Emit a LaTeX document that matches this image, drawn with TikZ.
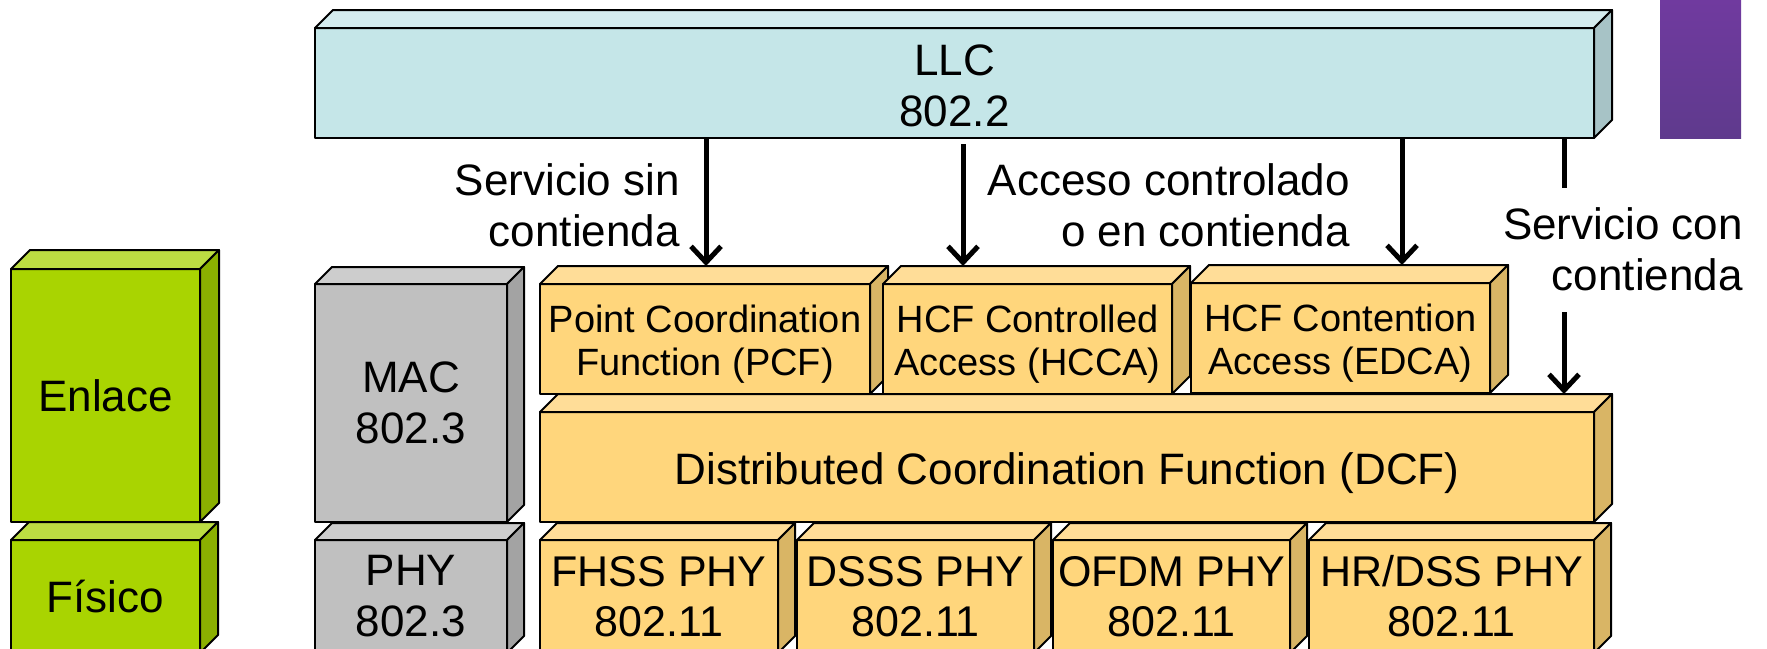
\documentclass[tikz,border=0pt]{standalone}
\usepackage{fontspec}
\setmainfont{Liberation Sans}
\usetikzlibrary{arrows.meta,calc}
\definecolor{llcF}{HTML}{C5E6E8}
\definecolor{llcT}{HTML}{D4ECEE}
\definecolor{llcS}{HTML}{A7C3C6}
\definecolor{grnF}{HTML}{A9D401}
\definecolor{grnT}{HTML}{BCDD42}
\definecolor{grnS}{HTML}{8BB000}
\definecolor{gryF}{HTML}{C0C0C0}
\definecolor{gryT}{HTML}{CDCDCD}
\definecolor{gryS}{HTML}{A3A3A3}
\definecolor{orF}{HTML}{FFD67C}
\definecolor{orT}{HTML}{FFDD98}
\definecolor{orS}{HTML}{D9B565}
\definecolor{purA}{HTML}{703A9F}
\definecolor{purB}{HTML}{5F3A8D}
\newcommand\bigf{\fontsize{44}{51}\selectfont}
\newcommand\midf{\fontsize{38}{43}\selectfont}
\newcommand\phyf{\fontsize{43}{50}\selectfont}
\newcommand\lowstrut[1]{\rule{0pt}{#1}}
\newcommand\cubefaces[4]{%
  \draw[face,fill=#3] (#1.north west) -- ++(#2,-#2) -- ($(#1.north east)+(#2,-#2)$) -- (#1.north east) -- cycle;
  \draw[face,fill=#4] (#1.north east) -- ++(#2,-#2) -- ($(#1.south east)+(#2,-#2)$) -- (#1.south east) -- cycle;
}
\tikzset{
  box/.style={draw, line width=2pt, outer sep=0pt, inner sep=0pt, anchor=north west, align=center, line join=round},
  face/.style={draw, line width=2pt, line join=round},
  lbl/.style={font=\bigf, align=right, inner sep=0pt, anchor=east},
  arr/.style={line width=5pt, -{Straight Barb[length=16pt,width=30pt]}},
  stub/.style={line width=5pt},
}
\begin{document}
\begin{tikzpicture}[x=1pt,y=-1pt]
\useasboundingbox (0,0) rectangle (1767,648);
\clip (0,0) rectangle (1767,648);

% purple tab
\fill[top color=purA, bottom color=purB] (1660,0) rectangle (1741,138);

% LLC
\node[box, fill=llcF, minimum width=1279pt, minimum height=110pt, font=\bigf] (LLC) at (315,28) {\lowstrut{36pt}LLC\\802.2};
\cubefaces{LLC}{18}{llcT}{llcS}

% layer boxes
\node[box, fill=grnF, minimum width=189pt, minimum height=253pt, font=\bigf] (enl) at (11,269) {Enlace};
\cubefaces{enl}{19}{grnT}{grnS}
\node[box, fill=grnF, minimum width=189pt, minimum height=113pt, font=\bigf] (fis) at (11,540) {Físico};
\cubefaces{fis}{18}{grnT}{grnS}

% 802.3
\node[box, fill=gryF, minimum width=192pt, minimum height=238pt, font=\bigf] (mac) at (315,284) {MAC\\802.3};
\cubefaces{mac}{17}{gryT}{gryS}
\node[box, fill=gryF, minimum width=192pt, minimum height=113pt, font=\bigf] (phy) at (315,540) {PHY\\802.3};
\cubefaces{phy}{17}{gryT}{gryS}

% 802.11 MAC
\node[box, fill=orF, minimum width=330pt, minimum height=110pt, font=\midf] (pcf) at (540,284) {\lowstrut{38pt}Point Coordination\\Function (PCF)};
\cubefaces{pcf}{18}{orT}{orS}
\node[box, fill=orF, minimum width=289pt, minimum height=110pt, font=\midf] (hcca) at (883,284) {\lowstrut{38pt}HCF Controlled\\Access (HCCA)};
\cubefaces{hcca}{18}{orT}{orS}
\node[box, fill=orF, minimum width=299pt, minimum height=110pt, font=\midf] (edca) at (1191,283) {\lowstrut{38pt}HCF Contention\\Access (EDCA)};
\cubefaces{edca}{18}{orT}{orS}
\node[box, fill=orF, minimum width=1054pt, minimum height=110pt, font=\bigf] (dcf) at (540,412) {\lowstrut{44pt}Distributed Coordination Function (DCF)};
\cubefaces{dcf}{18}{orT}{orS}

% 802.11 PHY
\node[box, fill=orF, minimum width=238pt, minimum height=113pt, font=\phyf] (fhss) at (540,540) {FHSS PHY\\802.11};
\cubefaces{fhss}{17}{orT}{orS}
\node[box, fill=orF, minimum width=237pt, minimum height=113pt, font=\phyf] (dsss) at (797,540) {DSSS PHY\\802.11};
\cubefaces{dsss}{17}{orT}{orS}
\node[box, fill=orF, minimum width=237pt, minimum height=113pt, font=\phyf] (ofdm) at (1053,540) {OFDM PHY\\802.11};
\cubefaces{ofdm}{17}{orT}{orS}
\node[box, fill=orF, minimum width=285pt, minimum height=113pt, font=\phyf] (hrdss) at (1309,540) {HR/DSS PHY\\802.11};
\cubefaces{hrdss}{17}{orT}{orS}

% connectors
\coordinate (x1) at (706,0);
\coordinate (x2) at (963,0);
\coordinate (x3) at (1402,0);
\coordinate (x4) at (1564,0);
\coordinate (t1) at ($(pcf.north)+(0,-18)$);
\coordinate (t2) at ($(hcca.north)+(0,-18)$);
\coordinate (t3) at ($(edca.north)+(0,-18)$);
\coordinate (t4) at ($(dcf.north)+(0,-18)$);
\coordinate (s4end) at (1564,188);
\coordinate (s4start) at (1564,312);

\draw[arr] (LLC.south -| x1) -- (t1 -| x1);
\draw[arr, shorten <=6pt] (LLC.south -| x2) -- (t2 -| x2);
\draw[arr] (LLC.south -| x3) -- (t3 -| x3);
\draw[stub] (LLC.south -| x4) -- (s4end);
\draw[arr] (s4start) -- (t4 -| x4);

% labels
\node[lbl] (lab1) at (680,205) {Servicio sin\\contienda};
\node[lbl] (lab2) at (1350,205) {Acceso controlado\\o en contienda};
\node[lbl] (lab3) at (1743,249) {Servicio con\\contienda};
\end{tikzpicture}
\end{document}
